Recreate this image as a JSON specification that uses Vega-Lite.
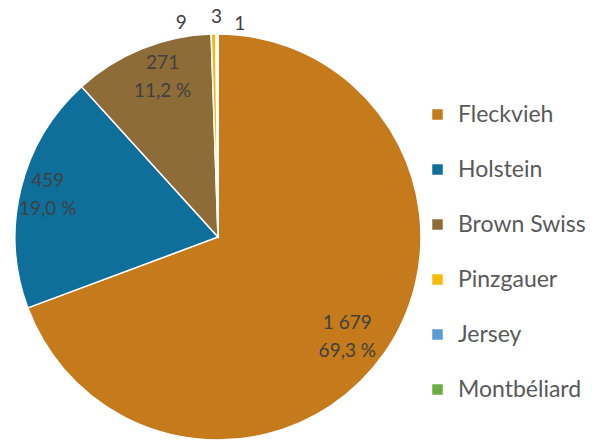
{
  "$schema": "https://vega.github.io/schema/vega-lite/v6.json",
  "width": 436,
  "height": 406,
  "autosize": {"type": "none"},
  "padding": {"top": 34, "left": 0, "bottom": 0, "right": 162},
  "background": "white",
  "config": {"view": {"stroke": null}, "font": "Lato"},
  "data": {
    "values": [
      {"breed": "Fleckvieh", "n": 1679, "lab": "1 679\n69,3 %"},
      {"breed": "Holstein", "n": 459, "lab": "459\n19,0 %"},
      {"breed": "Brown Swiss", "n": 271, "lab": "271\n11,2 %"},
      {"breed": "Pinzgauer", "n": 9, "lab": "9"},
      {"breed": "Jersey", "n": 3, "lab": "3"},
      {"breed": "Montbéliard", "n": 1, "lab": "1"}
    ]
  },
  "encoding": {
    "theta": {"field": "n", "type": "quantitative", "stack": true},
    "order": {"field": "n", "type": "quantitative", "sort": "descending"}
  },
  "layer": [
    {
      "mark": {"type": "arc", "outerRadius": 203, "stroke": "white", "strokeWidth": 1.5},
      "encoding": {
        "color": {
          "field": "breed",
          "type": "nominal",
          "sort": ["Fleckvieh", "Holstein", "Brown Swiss", "Pinzgauer", "Jersey", "Montbéliard"],
          "scale": {
            "domain": ["Fleckvieh", "Holstein", "Brown Swiss", "Pinzgauer", "Jersey", "Montbéliard"],
            "range": ["#C57B1B", "#0E6F9B", "#8E6C38", "#F7BA0B", "#5B9BD5", "#6AAE45"]
          },
          "legend": {
            "title": null,
            "orient": "none",
            "legendX": 426,
            "legendY": 69,
            "symbolType": "square",
            "symbolSize": 110,
            "symbolStrokeWidth": 0,
            "labelFontSize": 23,
            "labelColor": "#595959",
            "labelOffset": 9,
            "rowPadding": 31,
            "labelFont": "Lato"
          }
        }
      }
    },
    {
      "mark": {"type": "text", "radius": 166, "dx": -7, "dy": -9, "fontSize": 19, "fill": "#404040", "lineBreak": "\n", "lineHeight": 28, "align": "center", "baseline": "middle"},
      "encoding": {
        "text": {"condition": {"test": "datum.breed === 'Fleckvieh'", "field": "lab"}, "value": ""}
      }
    },
    {
      "mark": {"type": "text", "radius": 166, "dx": -9, "dy": -17, "fontSize": 19, "fill": "#404040", "lineBreak": "\n", "lineHeight": 28, "align": "center", "baseline": "middle"},
      "encoding": {
        "text": {"condition": {"test": "datum.breed === 'Holstein'", "field": "lab"}, "value": ""}
      }
    },
    {
      "mark": {"type": "text", "radius": 166, "dx": 7, "dy": -20, "fontSize": 19, "fill": "#404040", "lineBreak": "\n", "lineHeight": 28, "align": "center", "baseline": "middle"},
      "encoding": {
        "text": {"condition": {"test": "datum.breed === 'Brown Swiss'", "field": "lab"}, "value": ""}
      }
    },
    {
      "mark": {"type": "text", "radius": 214, "dx": -32, "fontSize": 19, "fill": "#404040", "align": "center", "baseline": "middle"},
      "encoding": {
        "text": {"condition": {"test": "datum.breed === 'Pinzgauer'", "field": "lab"}, "value": ""}
      }
    },
    {
      "mark": {"type": "text", "radius": 220, "dx": 0, "fontSize": 19, "fill": "#404040", "align": "center", "baseline": "middle"},
      "encoding": {
        "text": {"condition": {"test": "datum.breed === 'Jersey'", "field": "lab"}, "value": ""}
      }
    },
    {
      "mark": {"type": "text", "radius": 213, "dx": 22, "fontSize": 19, "fill": "#404040", "align": "center", "baseline": "middle"},
      "encoding": {
        "text": {"condition": {"test": "datum.breed === 'Montbéliard'", "field": "lab"}, "value": ""}
      }
    }
  ]
}
